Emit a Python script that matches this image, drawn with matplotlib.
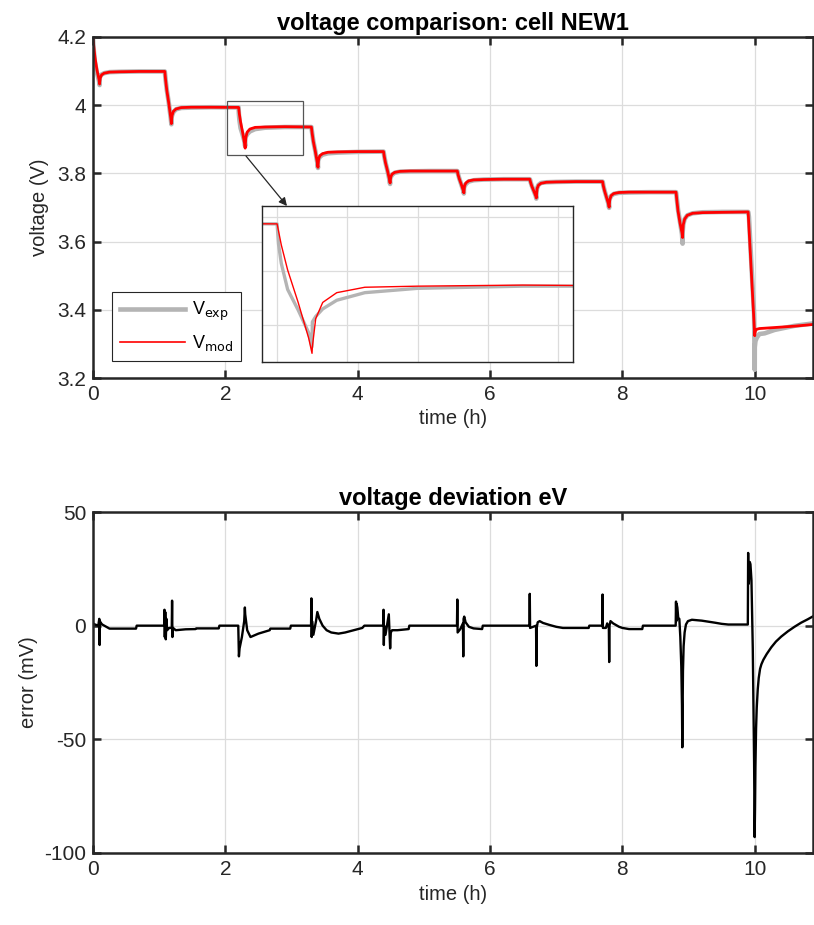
import matplotlib
matplotlib.use("Agg")
import matplotlib.pyplot as plt
from matplotlib.lines import Line2D
from matplotlib.patches import Rectangle, FancyArrowPatch
import numpy as np

# ---------------- data ----------------
pulse_starts = [0.0, 1.085, 2.2, 3.30, 4.39, 5.505, 6.60, 7.70, 8.81, 9.90]
pulse_offsets = [0, 0.004, 0.012, 0.03, 0.06, 0.09, 0.0995, 0.1005, 0.11, 0.13, 0.17, 0.25, 0.4, 0.7]

vexp_pulses = [
    [4.197, 4.180, 4.160, 4.125, 4.095, 4.072, 4.059, 4.078, 4.085, 4.090, 4.094, 4.097, 4.098, 4.099],
    [4.099, 4.091, 4.075, 4.045, 4.007, 3.962, 3.944, 3.962, 3.970, 3.980, 3.988, 3.992, 3.993, 3.994],
    [3.9935, 3.975, 3.957, 3.933, 3.914, 3.893, 3.880, 3.903, 3.908, 3.915, 3.923, 3.930, 3.934, 3.936],
    [3.936, 3.930, 3.918, 3.894, 3.865, 3.831, 3.816, 3.836, 3.842, 3.849, 3.855, 3.859, 3.861, 3.863],
    [3.864, 3.860, 3.850, 3.832, 3.808, 3.781, 3.769, 3.784, 3.789, 3.796, 3.802, 3.805, 3.806, 3.807],
    [3.807, 3.805, 3.797, 3.785, 3.768, 3.750, 3.741, 3.758, 3.762, 3.769, 3.776, 3.780, 3.782, 3.783],
    [3.783, 3.782, 3.775, 3.764, 3.749, 3.734, 3.726, 3.745, 3.756, 3.766, 3.772, 3.774, 3.775, 3.776],
    [3.776, 3.774, 3.764, 3.750, 3.730, 3.710, 3.699, 3.720, 3.726, 3.734, 3.740, 3.743, 3.744, 3.745],
    [3.745, 3.740, 3.726, 3.694, 3.658, 3.622, 3.594, 3.628, 3.650, 3.666, 3.677, 3.683, 3.686, 3.687],
    [3.687, 3.684, 3.672, 3.605, 3.493, 3.388, 3.224, 3.290, 3.308, 3.318, 3.329, 3.331, 3.341, 3.353],
]
vmod_pulses = [
    [4.197, 4.188, 4.172, 4.140, 4.103, 4.076, 4.062, 4.067, 4.080, 4.089, 4.094, 4.097, 4.098, 4.099],
    [4.099, 4.090, 4.074, 4.044, 4.006, 3.963, 3.946, 3.951, 3.970, 3.982, 3.989, 3.993, 3.994, 3.994],
    [3.9935, 3.987, 3.974, 3.951, 3.921, 3.888, 3.874, 3.880, 3.906, 3.921, 3.930, 3.935, 3.936, 3.937],
    [3.936, 3.929, 3.917, 3.893, 3.864, 3.831, 3.818, 3.824, 3.843, 3.852, 3.858, 3.862, 3.863, 3.864],
    [3.864, 3.859, 3.849, 3.831, 3.808, 3.782, 3.772, 3.776, 3.790, 3.798, 3.803, 3.806, 3.807, 3.807],
    [3.807, 3.803, 3.796, 3.784, 3.768, 3.750, 3.743, 3.747, 3.764, 3.772, 3.778, 3.781, 3.782, 3.783],
    [3.783, 3.780, 3.774, 3.763, 3.749, 3.734, 3.728, 3.733, 3.755, 3.765, 3.771, 3.774, 3.775, 3.776],
    [3.776, 3.772, 3.763, 3.749, 3.730, 3.710, 3.701, 3.705, 3.724, 3.735, 3.741, 3.744, 3.745, 3.745],
    [3.745, 3.737, 3.722, 3.690, 3.655, 3.626, 3.612, 3.622, 3.650, 3.666, 3.677, 3.683, 3.685, 3.686],
    [3.687, 3.672, 3.645, 3.578, 3.468, 3.362, 3.324, 3.330, 3.338, 3.343, 3.345, 3.346, 3.348, 3.352],
]
t_end = 10.88
vexp_end = 3.360
vmod_end = 3.357

err_t = [0.00, 0.03, 0.08, 0.095, 0.10, 0.105, 0.11, 0.14, 0.20, 0.25, 0.65, 0.66, 1.075,
         1.080, 1.085, 1.092, 1.10, 1.11, 1.12, 1.15, 1.19, 1.195, 1.20, 1.21, 1.25, 1.40, 1.55, 1.56, 1.90, 1.91, 2.195,
         2.20, 2.205, 2.215, 2.25, 2.285, 2.295, 2.30, 2.33, 2.38, 2.50, 2.67, 2.68, 2.98, 2.99, 3.295,
         3.30, 3.305, 3.31, 3.33, 3.37, 3.39, 3.42, 3.47, 3.53, 3.60, 3.71, 3.81, 3.94, 4.07, 4.10, 4.385,
         4.39, 4.395, 4.40, 4.42, 4.47, 4.48, 4.49, 4.50, 4.52, 4.60, 4.77, 4.78, 5.50,
         5.505, 5.51, 5.55, 5.59, 5.595, 5.60, 5.61, 5.63, 5.68, 5.75, 5.88, 5.89, 6.595,
         6.60, 6.605, 6.65, 6.695, 6.70, 6.705, 6.72, 6.75, 6.80, 6.90, 7.00, 7.10, 7.49, 7.50, 7.695,
         7.70, 7.705, 7.75, 7.77, 7.795, 7.80, 7.805, 7.82, 7.86, 7.95, 8.00, 8.10, 8.30, 8.31, 8.805,
         8.81, 8.815, 8.82, 8.83, 8.845, 8.86, 8.875, 8.89, 8.90, 8.905, 8.91, 8.915, 8.925, 8.94, 8.96, 8.99,
         9.05, 9.20, 9.40, 9.50, 9.60, 9.895,
         9.90, 9.905, 9.91, 9.925, 9.935, 9.95, 9.97, 9.99, 9.998, 10.004, 10.01, 10.02, 10.03, 10.045,
         10.06, 10.08, 10.10, 10.13, 10.18, 10.25, 10.32, 10.40, 10.50, 10.60, 10.70, 10.80, 10.88]
err_v = [1.0, 0.5, 0.0, 3.0, -8.5, 2.0, 1.5, 0.5, -0.5, -1.3, -1.3, 0.0, 0.0,
         7.0, -5.0, 6.0, -6.0, 3.0, -2.0, -1.0, -1.0, 11.0, -5.0, -1.0, -2.0, -1.6, -1.5, -1.2, -1.2, 0.0, 0.0,
         -8.0, -13.5, -10.0, -5.0, 2.0, 8.0, 5.0, -2.0, -5.0, -3.5, -2.0, -1.3, -1.3, 0.0, 0.0,
         12.0, -5.0, 2.0, -4.0, 2.0, 6.0, 3.0, 0.0, -2.0, -3.0, -3.5, -3.0, -2.0, -1.0, 0.0, 0.0,
         7.0, -8.5, 0.0, -4.0, 5.0, -3.0, -10.0, -3.0, -2.0, -2.0, -1.5, 0.0, 0.0,
         11.5, -3.0, -1.5, 1.0, -13.5, 3.0, 4.0, 1.5, -0.5, -1.2, -1.5, 0.0, 0.0,
         14.0, -1.0, -0.5, 0.0, -17.7, -1.0, 1.5, 2.0, 1.2, 0.3, -0.5, -1.0, -1.0, 0.0, 0.0,
         13.7, -1.0, -1.0, 1.0, -1.0, -16.0, 0.0, 2.0, 1.0, -0.5, -1.0, -1.5, -1.5, 0.0, 0.0,
         10.6, 2.0, 9.5, 8.0, 3.0, 3.0, -5.0, -18.0, -35.0, -53.5, -35.0, -20.0, -9.0, -3.0, 0.5, 2.0,
         2.6, 2.2, 1.3, 0.8, 0.5, 0.5,
         32.0, 20.0, 18.5, 28.0, 27.0, 20.0, -10.0, -60.0, -93.0, -80.0, -62.0, -45.0, -36.0, -28.0,
         -23.0, -19.0, -17.0, -15.0, -12.5, -9.5, -7.0, -4.8, -2.5, -0.5, 1.3, 2.8, 4.1]

# ---------------- assemble series ----------------
t_v, vexp, vmod = [], [], []
for t0, pe, pm in zip(pulse_starts, vexp_pulses, vmod_pulses):
    for off, a, b in zip(pulse_offsets, pe, pm):
        t_v.append(t0 + off)
        vexp.append(a)
        vmod.append(b)
t_v.append(t_end); vexp.append(vexp_end); vmod.append(vmod_end)
t_v = np.array(t_v); vexp = np.array(vexp); vmod = np.array(vmod)

# ---------------- styling ----------------
plt.rcParams['font.family'] = ['Liberation Sans', 'DejaVu Sans']
plt.rcParams['axes.unicode_minus'] = False
AX_COL = '#262626'
GRID_COL = '#dcdcdc'
GRAY = '#b4b4b4'
TICK_FS = 15
LABEL_FS = 14.5
TITLE_FS = 17

W, H = 814, 925
fig = plt.figure(figsize=(W / 100, H / 100), dpi=100)

def px_rect(l, t, r, b):
    return [l / W, 1 - b / H, (r - l) / W, (b - t) / H]

def style_axes(ax):
    for s in ax.spines.values():
        s.set_color(AX_COL)
        s.set_linewidth(1.8)
    ax.tick_params(direction='in', length=6, width=1.8, colors=AX_COL,
                   labelsize=TICK_FS, top=True, right=True, labelcolor=AX_COL, pad=5)
    ax.grid(True, color=GRID_COL, linewidth=0.9)
    ax.set_axisbelow(True)

# top axes
ax1 = fig.add_axes(px_rect(93, 37, 813, 378))
style_axes(ax1)
ax1.plot(t_v, vexp, color=GRAY, lw=3.3, solid_joinstyle='round')
ax1.plot(t_v, vmod, color='red', lw=2.0, solid_joinstyle='round')
ax1.set_xlim(0, 10.88)
ax1.set_ylim(3.2, 4.2)
ax1.set_xticks([0, 2, 4, 6, 8, 10])
ax1.set_yticks([3.2, 3.4, 3.6, 3.8, 4.0, 4.2])
ax1.set_yticklabels(['3.2', '3.4', '3.6', '3.8', '4', '4.2'])
ax1.set_xlabel('time (h)', fontsize=LABEL_FS, color=AX_COL, labelpad=4)
ax1.set_ylabel('voltage (V)', fontsize=LABEL_FS, color=AX_COL, labelpad=6)
ax1.set_title('voltage comparison: cell NEW1', fontsize=TITLE_FS, fontweight='bold', color='black', pad=5)

# zoom rectangle
ax1.add_patch(Rectangle((2.03, 3.854), 1.14, 0.158, fill=False, edgecolor='#555555', lw=0.9, zorder=5))

handles = [Line2D([], [], color=GRAY, lw=3.3), Line2D([], [], color='red', lw=1.2)]
leg = ax1.legend(handles, [r'V$_{\mathrm{exp}}$', r'V$_{\mathrm{mod}}$'], loc='upper left',
                 bbox_to_anchor=(0.026, 0.252), fontsize=13, frameon=True, fancybox=False,
                 edgecolor=AX_COL, framealpha=1, handlelength=3.6, borderpad=0.45, labelspacing=0.55,
                 handletextpad=0.4, borderaxespad=0)
leg.get_frame().set_linewidth(0.8)

# inset
axi = fig.add_axes(px_rect(262, 206, 573, 362))
for s in axi.spines.values():
    s.set_color(AX_COL)
    s.set_linewidth(1.0)
axi.plot(t_v, vexp, color=GRAY, lw=2.4)
axi.plot(t_v, vmod, color='red', lw=1.0)
axi.set_xlim(2.157, 3.043)
axi.set_ylim(3.866, 4.010)
axi.set_xticks([2.2, 2.4, 2.6, 2.8, 3.0])
axi.set_yticks([3.9, 3.95, 4.0])
axi.tick_params(length=0, labelbottom=False, labelleft=False)
axi.grid(True, color=GRID_COL, linewidth=0.9)
axi.set_axisbelow(True)

# arrow from rectangle to inset
fig.add_artist(FancyArrowPatch(
    (246 / W, 1 - 156 / H), (287 / W, 1 - 206 / H), transform=fig.transFigure,
    arrowstyle='-|>', mutation_scale=12, color=AX_COL, lw=0.9, shrinkA=0, shrinkB=0))

# bottom axes
ax2 = fig.add_axes(px_rect(93, 512, 813, 853))
style_axes(ax2)
ax2.plot(err_t, err_v, color='black', lw=1.7)
ax2.set_xlim(0, 10.88)
ax2.set_ylim(-100, 50)
ax2.set_xticks([0, 2, 4, 6, 8, 10])
ax2.set_yticks([-100, -50, 0, 50])
ax2.set_xlabel('time (h)', fontsize=LABEL_FS, color=AX_COL, labelpad=4)
ax2.set_ylabel('error (mV)', fontsize=LABEL_FS, color=AX_COL, labelpad=4)
ax2.set_title('voltage deviation eV', fontsize=TITLE_FS, fontweight='bold', color='black', pad=5)

fig.savefig('out.png', dpi=100)
